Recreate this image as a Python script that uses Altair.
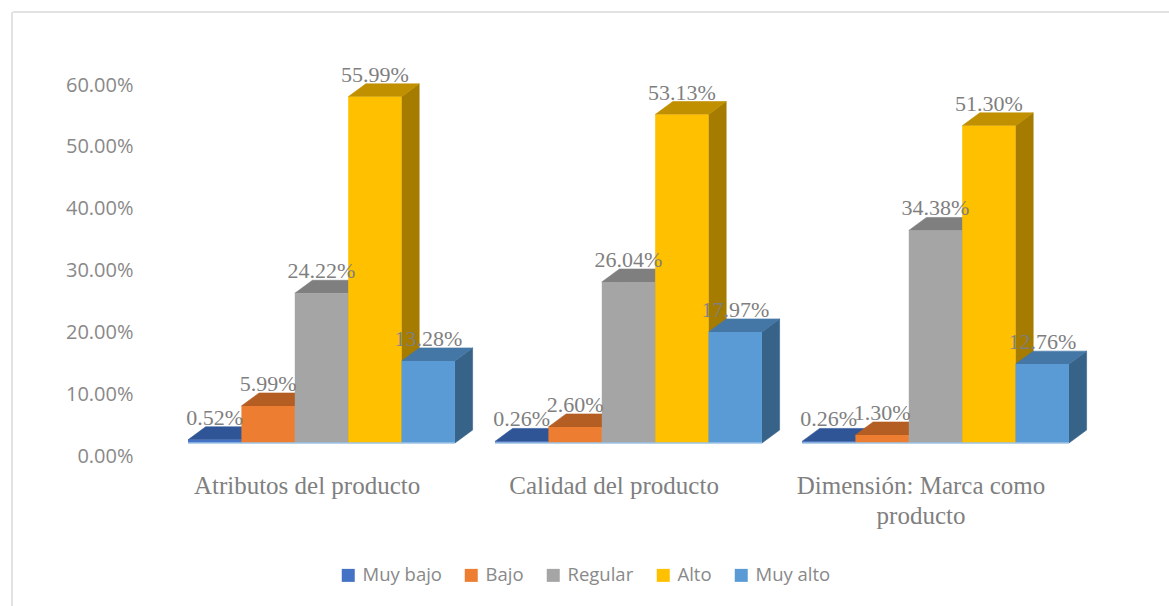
import json
import textwrap

import altair as alt
import pandas as pd

# ---------------- data ----------------
categories = ["Atributos del producto", "Calidad del producto", "Dimensión: Marca como producto"]
series = ["Muy bajo", "Bajo", "Regular", "Alto", "Muy alto"]
muy_bajo = [0.52, 0.26, 0.26]
bajo = [5.99, 2.60, 1.30]
regular = [24.22, 26.04, 34.38]
alto = [55.99, 53.13, 51.30]
muy_alto = [13.28, 17.97, 12.76]
y_ticks = [0.0, 0.1, 0.2, 0.3, 0.4, 0.5, 0.6]

values = {"Muy bajo": muy_bajo, "Bajo": bajo, "Regular": regular, "Alto": alto, "Muy alto": muy_alto}

# ---------------- styles ----------------
front_colors = ["#4472C4", "#ED7D31", "#A5A5A5", "#FFC000", "#5B9BD5"]
top_colors = ["#2F5597", "#B45E23", "#7F7F7F", "#C09000", "#4577A6"]
side_colors = ["#284A82", "#A0521C", "#6E6E6E", "#A57C00", "#386389"]

STEP = 5.75      # cluster step, in bar widths
DX = 0.33        # 3D depth, horizontal (bar widths)
DY = 0.021       # 3D depth, vertical (value units)
LABEL_SHIFT = 0.28

# ---------------- build tables ----------------
front_rows, top_rows, side_rows, label_rows, floor_rows = [], [], [], [], []
for g, cat in enumerate(categories):
    floor_rows.append(dict(x=g * STEP, x2=g * STEP + len(series), y=DY))
    for s, name in enumerate(series):
        v = values[name][g] / 100.0
        L = g * STEP + s
        R = L + 1
        bid = f"{g}-{s}"
        front_rows.append(dict(series=name, bar=bid, x=L, x2=R, y=DY, y2=v + DY))
        for xx, lo, hi in [(L, v + DY, v + DY), (L + DX, v + DY, v + 2 * DY),
                           (R, v + DY, v + 2 * DY), (R + DX, v + 2 * DY, v + 2 * DY)]:
            top_rows.append(dict(series=name, bar=bid, x=xx, y=lo, y2=hi))
        for xx, lo, hi in [(R, DY, v + DY), (R + DX, 2 * DY, v + 2 * DY)]:
            side_rows.append(dict(series=name, bar=bid, x=xx, y=lo, y2=hi))
        label_rows.append(dict(series=name, x=L + 0.5, y=v + 2 * DY, v=v))

front_df = pd.DataFrame(front_rows)
top_df = pd.DataFrame(top_rows)
side_df = pd.DataFrame(side_rows)
label_df = pd.DataFrame(label_rows)
floor_df = pd.DataFrame(floor_rows)

# category labels on the x axis
cat_pos = [g * STEP + len(series) / 2 - LABEL_SHIFT for g in range(len(categories))]
lab = [json.dumps(textwrap.wrap(c, 22), ensure_ascii=False) for c in categories]
label_expr = f"datum.value < {STEP} ? {lab[0]} : (datum.value < {2 * STEP} ? {lab[1]} : {lab[2]})"

x_scale = alt.Scale(domain=[-0.375, 16.875], nice=False, zero=False)
y_scale = alt.Scale(domain=[0, 0.6], nice=False, zero=False)

x_axis = alt.Axis(values=cat_pos, labelExpr=label_expr, title=None, domain=False, ticks=False,
                  grid=False, labelFont="Liberation Serif", labelFontSize=25, labelColor="#7F7F7F",
                  labelPadding=17, labelLineHeight=30, labelOverlap=False, labelFlush=False,
                  labelLimit=400)
y_axis = alt.Axis(values=y_ticks, format=".2%", title=None, domain=False, ticks=False, grid=False,
                  labelFont="Open Sans", labelFontSize=20, labelColor="#898989", labelPadding=35)

X = lambda f: alt.X(f"{f}:Q", scale=x_scale, axis=x_axis)
Y = lambda f: alt.Y(f"{f}:Q", scale=y_scale, axis=y_axis)


def face_color(colors, legend=None):
    return alt.Color("series:N", scale=alt.Scale(domain=series, range=colors), legend=legend)


def face_stroke(colors):
    return alt.Stroke("series:N", scale=alt.Scale(domain=series, range=colors), legend=None)


sides = alt.Chart(side_df).mark_area(strokeWidth=0.6, opacity=1).encode(
    x=X("x"), y=Y("y"), y2="y2", detail="bar:N",
    color=face_color(side_colors), stroke=face_stroke(side_colors))

tops = alt.Chart(top_df).mark_area(strokeWidth=0.6, opacity=1).encode(
    x=X("x"), y=Y("y"), y2="y2", detail="bar:N",
    color=face_color(top_colors), stroke=face_stroke(top_colors))

legend = alt.Legend(orient="none", legendX=171, legendY=481, direction="horizontal", title=None,
                    symbolType="square", symbolSize=169, symbolStrokeWidth=0, symbolOpacity=1,
                    labelFont="Open Sans", labelFontSize=18.5, labelColor="#898989",
                    labelOffset=5, columnPadding=20)

fronts = alt.Chart(front_df).mark_bar(opacity=1).encode(
    x=X("x"), x2="x2", y=Y("y"), y2="y2",
    color=face_color(front_colors, legend))

floor = alt.Chart(floor_df).mark_rule(color="#9DC3E6", strokeWidth=1.5).encode(
    x=X("x"), x2="x2", y=Y("y"))

labels = alt.Chart(label_df).mark_text(font="Liberation Serif", fontSize=22, color="#7F7F7F",
                                        baseline="alphabetic", dy=-2).encode(
    x=X("x"), y=Y("y"), text=alt.Text("v:Q", format=".2%"))

frame_df = pd.DataFrame({"k": [0]})
frame_top = alt.Chart(frame_df).mark_rule(color="#D9D9D9", strokeWidth=1.5).encode(
    x=alt.value(-155), x2=alt.value(1001), y=alt.value(-73))
frame_left = alt.Chart(frame_df).mark_rule(color="#D9D9D9", strokeWidth=1.5).encode(
    x=alt.value(-156), y=alt.value(-73), y2=alt.value(521))

chart = alt.layer(frame_top, frame_left, sides, tops, fronts, floor, labels).resolve_scale(
    color="independent", stroke="independent"
).properties(
    width=921, height=371,
    autosize=alt.AutoSizeParams(type="none"),
    padding={"left": 168, "top": 85, "right": 80, "bottom": 150},
    background="white",
).configure_view(stroke=None)

chart.save("out.html", embed_options={"renderer": "svg", "actions": False})
